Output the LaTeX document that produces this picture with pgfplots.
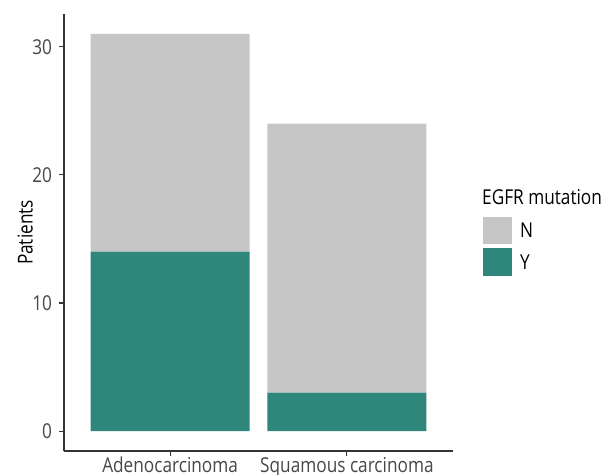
\documentclass[border=0pt]{standalone}
\usepackage{pgfplots}
\pgfplotsset{compat=1.18}
\usepackage{fontspec}
\setmainfont{Open Sans}[FakeStretch=0.84]
\definecolor{barN}{HTML}{C6C6C6}
\definecolor{barY}{HTML}{2F877C}
\newcommand{\lab}{\fontsize{20.5}{24}\selectfont}
\begin{document}
\lab
\begin{tikzpicture}
\begin{axis}[
    name=ax,
    scale only axis,
    width=389pt, height=437pt,
    ybar stacked,
    bar width=0.9,
    xmin=0.4, xmax=2.6,
    ymin=-1.55, ymax=32.55,
    axis x line*=bottom,
    axis y line*=left,
    axis line style={black!80, line width=1.1pt},
    xtick={1,2},
    xticklabels={Adenocarcinoma, Squamous carcinoma},
    ytick={0,10,20,30},
    tick align=outside,
    major tick length=5pt,
    tick style={black!80, line width=1.1pt},
    ticklabel style={font=\lab, text=black!72},
    xticklabel style={anchor=base, yshift=-16pt},
    /pgf/number format/assume math mode=true,
    ylabel={Patients},
    ylabel style={at={(axis description cs:-0.1,0.5)}, anchor=center, rotate=0, font=\lab},
    clip=false,
]
\addplot[fill=barY, draw=none] coordinates {(1,14) (2,3)};
\addplot[fill=barN, draw=none] coordinates {(1,17) (2,21)};
\end{axis}
% legend
\node[anchor=base west, inner sep=0pt] at ([shift={(418pt,246pt)}]ax.south west) {EGFR mutation};
\fill[barN] ([shift={(419pt,207pt)}]ax.south west) rectangle ([shift={(448pt,234pt)}]ax.south west);
\fill[barY] ([shift={(419pt,175pt)}]ax.south west) rectangle ([shift={(448pt,203pt)}]ax.south west);
\node[anchor=west, inner sep=0pt] at ([shift={(456pt,221pt)}]ax.south west) {N};
\node[anchor=west, inner sep=0pt] at ([shift={(456pt,189pt)}]ax.south west) {Y};
\pgfresetboundingbox
\path ([shift={(-64pt,-23pt)}]ax.south west) rectangle ++(605pt,474pt);
\end{tikzpicture}
\end{document}
